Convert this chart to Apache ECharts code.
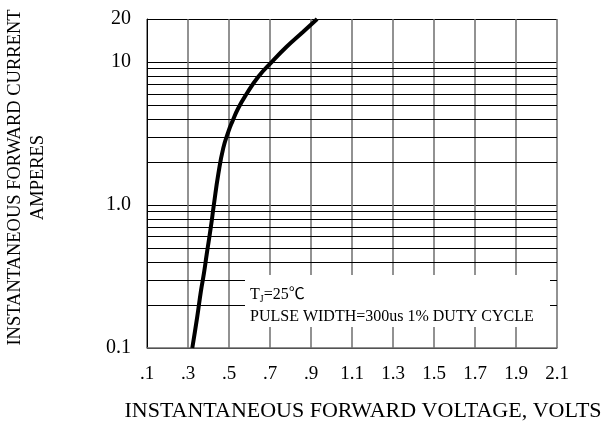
<!DOCTYPE html>
<html><head><meta charset="utf-8">
<script src="https://cdn.jsdelivr.net/npm/echarts@6/dist/echarts.min.js"></script>
<style>html,body{margin:0;padding:0;background:#fff}#c{width:603px;height:421px}</style>
</head><body><div id="c"></div>
<script>
// Forward voltage (V) vs instantaneous forward current (A)
const voltage = [0.321, 0.345, 0.363, 0.378, 0.391, 0.412, 0.426, 0.448, 0.472, 0.497, 0.516, 0.545, 0.586, 0.643, 0.708, 0.781, 0.862, 0.930];
const current = [0.1, 0.165, 0.25, 0.335, 0.45, 0.71, 1.0, 1.65, 2.5, 3.26, 3.83, 4.75, 6.0, 7.9, 10, 12.8, 16.3, 20];
const xTickLabels = ['.1', '.3', '.5', '.7', '.9', '1.1', '1.3', '1.5', '1.7', '1.9', '2.1'];
const yTickValues = [0.1, 1, 10, 20];
const yTickLabels = ['0.1', '1.0', '10', '20'];
const minorGridValues = [0.2, 0.3, 0.4, 0.5, 0.6, 0.7, 0.8, 0.9, 2, 3, 4, 5, 6, 7, 8, 9];
const noteLine1 = ['T', 'J', '=25℃'];
const noteLine2 = 'PULSE WIDTH=300us 1% DUTY CYCLE';
const xTitle = 'INSTANTANEOUS FORWARD VOLTAGE, VOLTS';
const yTitle = 'INSTANTANEOUS FORWARD CURRENT\nAMPERES';

const FONT = "'Liberation Serif', 'Times New Roman', serif";
const chart = echarts.init(document.getElementById('c'), null, {renderer: 'canvas'});

const points = voltage.map((v, i) => [v, current[i]]);

chart.setOption({
  animation: false,
  backgroundColor: '#fff',
  grid: {left: 147, right: 46, top: 19, bottom: 73, containLabel: false, outerBoundsMode: 'none'},
  xAxis: {
    type: 'value', min: 0.1, max: 2.1, interval: 0.2,
    name: xTitle, nameLocation: 'middle', nameGap: 52,
    nameTextStyle: {fontFamily: FONT, fontSize: 22, color: '#000', padding: [0, 0, 0, 22]},
    axisLine: {show: true, lineStyle: {color: '#6e6e6e', width: 1.5}},
    axisTick: {show: false},
    axisLabel: {
      fontFamily: FONT, fontSize: 19, color: '#000', margin: 17,
      formatter: v => xTickLabels[Math.round((v - 0.1) / 0.2)] ?? ''
    },
    splitLine: {show: true, lineStyle: {color: '#6e6e6e', width: 1.5}}
  },
  yAxis: {
    type: 'log', logBase: 10, min: 0.1, max: 20,
    name: yTitle, nameLocation: 'middle', nameRotate: 90, nameGap: 97,
    nameTextStyle: {fontFamily: FONT, fontSize: 18.5, lineHeight: 23, color: '#000', align: 'center', padding: [0, 0, 0, 12]},
    axisLine: {show: true, lineStyle: {color: '#000', width: 1}},
    axisTick: {show: false},
    axisLabel: {
      fontFamily: FONT, fontSize: 20, color: '#000', margin: 16,
      formatter: v => {
        const i = yTickValues.findIndex(t => Math.abs(t - v) / t < 1e-6);
        return i >= 0 ? yTickLabels[i] : '';
      }
    },
    splitLine: {show: true, lineStyle: {color: '#000', width: 1}}
  },
  series: [{
    type: 'line',
    data: points,
    smooth: 0.5,
    showSymbol: false,
    symbol: 'none',
    clip: true,
    z: 5,
    lineStyle: {color: '#000', width: 4},
    markLine: {
      silent: true, symbol: 'none', animation: false,
      label: {show: false},
      lineStyle: {color: '#000', width: 1, type: 'solid'},
      data: minorGridValues.map(v => ({yAxis: v}))
    }
  }],
  graphic: [{
    type: 'rect', z: 100,
    shape: {x: 245, y: 275, width: 305, height: 52},
    style: {fill: '#fff'}
  }, {
    type: 'text', z: 101, left: 250, top: 287,
    style: {
      text: '{a|' + noteLine1[0] + '}{s|' + noteLine1[1] + '}{a|' + noteLine1[2] + '}',
      rich: {
        a: {fontFamily: FONT + ", 'Noto Sans CJK SC'", fontSize: 16, fill: '#000'},
        s: {fontFamily: FONT, fontSize: 10, fill: '#000', verticalAlign: 'bottom', padding: [8, 0, 0, 0]}
      }
    }
  }, {
    type: 'text', z: 101, left: 250, top: 309,
    style: {text: noteLine2, fontFamily: FONT, fontSize: 16, fill: '#000'}
  }]
});
</script></body></html>
